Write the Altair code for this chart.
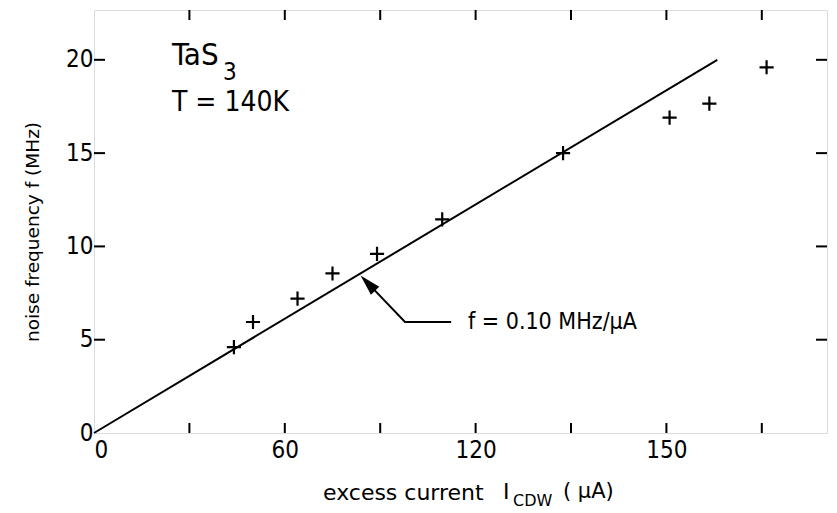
import altair as alt
import pandas as pd

# measured data: excess current I_CDW (uA) vs noise frequency f (MHz)
current = [44, 50, 64, 75, 89, 109.5, 147.5, 181, 193.5, 211.5]
freq = [4.6, 5.95, 7.2, 8.55, 9.6, 11.45, 15.0, 16.9, 17.65, 19.6]

# fitted line f = 0.10 MHz/uA
fit_x = [0, 196]
fit_y = [0, 20]

# arrow pointing at the fit line
arrow_x = [86.1, 97.8, 112.3]
arrow_y = [8.03, 5.95, 5.95]

x_ticks = [30, 60, 90, 120, 150, 180, 210]
x_labels = [0, 60, 120, 180]
y_ticks = [5, 10, 15, 20]
y_labels = [0, 5, 10, 15, 20]

FONT = "Liberation Sans Narrow, DejaVu Sans Condensed, Liberation Sans, sans-serif"
TFONT = "DejaVu Sans, sans-serif"
W, H = 733, 423
XD = [0, 230.5]
YD = [0, 22.67]

xs = alt.Scale(domain=XD, nice=False, zero=False)
ys = alt.Scale(domain=YD, nice=False, zero=False)

pts = pd.DataFrame({"I": current, "f": freq})
fit = pd.DataFrame({"I": fit_x, "f": fit_y})
arr = pd.DataFrame({"I": arrow_x, "f": arrow_y, "o": list(range(len(arrow_x)))})

xaxis = alt.Axis(values=x_labels, ticks=False, domain=False, grid=False,
                 labelExpr="datum.value == 180 ? '150' : datum.label",
                 labelFont=FONT, labelFontSize=24, labelColor="black",
                 labelPadding=5, title=None)
yaxis = alt.Axis(values=y_labels, ticks=False, domain=False, grid=False,
                 labelFont=FONT, labelFontSize=24, labelColor="black",
                 labelPadding=1, title=None)

base_pts = alt.Chart(pts).mark_point(
    shape="M-1,0L1,0M0,-1L0,1", filled=False, stroke="black",
    strokeWidth=2.2, size=200, opacity=1
).encode(
    x=alt.X("I:Q", scale=xs, axis=xaxis),
    y=alt.Y("f:Q", scale=ys, axis=yaxis),
)

line = alt.Chart(fit).mark_line(color="black", strokeWidth=2).encode(
    x=alt.X("I:Q", scale=xs), y=alt.Y("f:Q", scale=ys)
)

arrow_line = alt.Chart(arr).mark_line(color="black", strokeWidth=2).encode(
    x=alt.X("I:Q", scale=xs), y=alt.Y("f:Q", scale=ys), order="o:Q"
)

arrow_head = alt.Chart(pd.DataFrame({"I": [arrow_x[0]], "f": [arrow_y[0]]})).mark_point(
    shape="M0,-1L0.55,1L-0.55,1Z", filled=True, color="black", opacity=1,
    size=440, angle=316
).encode(x=alt.X("I:Q", scale=xs), y=alt.Y("f:Q", scale=ys))

def txt(s, x, y, size, font=FONT):
    return alt.Chart(pd.DataFrame({"I": [x], "f": [y], "t": [s]})).mark_text(
        font=font, fontSize=size, color="black", align="left", baseline="middle"
    ).encode(x=alt.X("I:Q", scale=xs), y=alt.Y("f:Q", scale=ys), text="t:N")

annot = txt("f = 0.10 MHz/\u03bcA", 117.6, 5.95, 23)
tas = txt("TaS", 24.5, 20.2, 31)
tas3 = txt("3", 40.6, 19.3, 24)
temp = txt("T = 140K", 24.5, 17.7, 28)

# inward ticks on all four sides
xt = pd.DataFrame({"v": x_ticks})
yt = pd.DataFrame({"v": y_ticks})
bt = alt.Chart(xt).mark_rule(color="black", strokeWidth=2).encode(
    x=alt.X("v:Q", scale=xs), y=alt.value(H), y2=alt.value(H - 10))
tt = alt.Chart(xt).mark_rule(color="black", strokeWidth=2).encode(
    x=alt.X("v:Q", scale=xs), y=alt.value(0), y2=alt.value(10))
lt = alt.Chart(yt).mark_rule(color="black", strokeWidth=2).encode(
    y=alt.Y("v:Q", scale=ys), x=alt.value(0), x2=alt.value(11))
rt = alt.Chart(yt).mark_rule(color="black", strokeWidth=2).encode(
    y=alt.Y("v:Q", scale=ys), x=alt.value(W), x2=alt.value(W - 11))

# axis titles as text pieces (for the subscript)
def ptxt(s, px, py, size, angle=None, align="left"):
    kw = {}
    if angle is not None:
        kw["angle"] = angle
    return alt.Chart(pd.DataFrame({"t": [s]})).mark_text(
        font=TFONT, fontSize=size, color="black", align=align, baseline="middle", **kw
    ).encode(x=alt.value(px), y=alt.value(py), text="t:N")

xt1 = ptxt("excess current", 323 - 94, 493 - 10, 22)
xt2 = ptxt("I", 503 - 94, 492 - 10, 22)
xt3 = ptxt("CDW", 513 - 94, 501 - 10, 16)
xt4 = ptxt("( \u03bcA)", 563 - 94, 492 - 10, 21)
yt1 = ptxt("noise frequency f  (MHz)", 33 - 94, 232 - 10, 18.5, angle=270, align="center")

chart = alt.layer(
    line, arrow_line, arrow_head, base_pts, annot, tas, tas3, temp,
    bt, tt, lt, rt, xt1, xt2, xt3, xt4, yt1
).properties(
    width=W, height=H,
    padding={"left": 86, "top": 2, "right": 2, "bottom": 80},
    autosize=alt.AutoSizeParams(type="none"),
).configure_view(
    stroke="black", strokeWidth=2
).configure(background="white")

chart.save("out.html", embed_options={"renderer": "svg", "actions": False})
